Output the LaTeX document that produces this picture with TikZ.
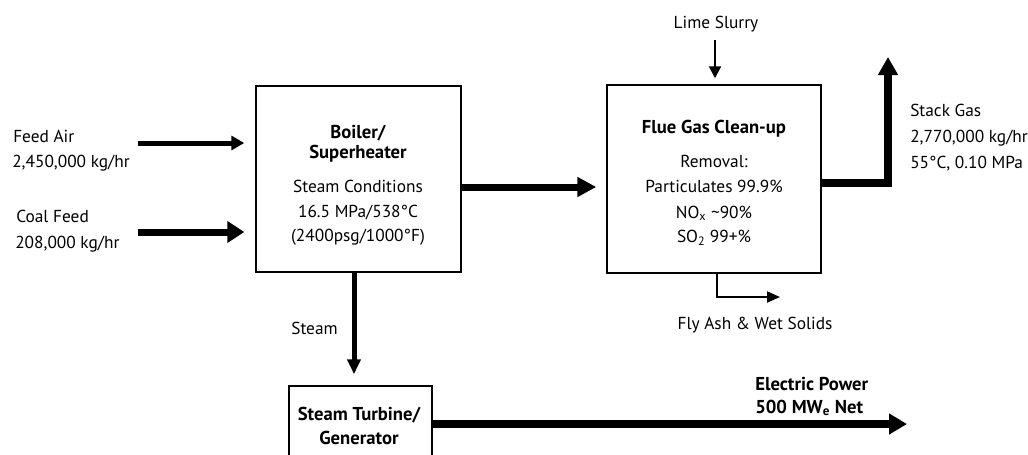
\documentclass[tikz,border=0pt]{standalone}
\usepackage{fontspec}
\setmainfont{PT Sans}
\usetikzlibrary{arrows.meta}
\begin{document}
\begin{tikzpicture}[x=0.75pt,y=-0.75pt,
  box/.style={draw, line width=1.1pt, inner sep=0pt},
  txt/.style={anchor=base, inner sep=0pt, font=\fontsize{13}{15}\selectfont},
  ltxt/.style={txt, anchor=base west},
  btxt/.style={txt, font=\fontsize{14}{16}\selectfont\bfseries},
  lbtxt/.style={btxt, anchor=base west},
  thin/.style={line width=1.5pt, -{Triangle[length=9pt,width=9pt]}},
  midflow/.style={line width=3.75pt, -{Triangle[length=10.5pt,width=11pt]}},
  bigflow/.style={line width=5.25pt, -{Triangle[length=13.5pt,width=15pt]}},
  hugeflow/.style={line width=6pt, -{Triangle[length=13.5pt,width=15pt]}, line join=miter}
]
\clip (0,0) rectangle (1028,454);
\fill[white] (0,0) rectangle (1028,454);

% boxes
\node[box, minimum width=153.75pt, minimum height=139.5pt] (boiler) at (358.5,179) {};
\node[box, minimum width=160.5pt, minimum height=141pt] (flue) at (714,179) {};
\node[box, minimum width=107.25pt, minimum height=70.5pt] (turbine) at (360.5,433) {};

% boiler text
\node[btxt] (b1) at (358,138) {Boiler/};
\node[btxt] (b2) at (358,158) {Superheater};
\node[txt] (b3) at (358,192) {Steam Conditions};
\node[txt] (b4) at (358,217) {16.5 MPa/538°C};
\node[txt] (b5) at (358,241) {(2400psg/1000°F)};

% flue text
\node[btxt] (f1) at (714,133) {Flue Gas Clean-up};
\node[txt] (f2) at (714,167) {Removal:};
\node[txt] (f3) at (714,192) {Particulates 99.9\%};
\node[txt] (f4) at (714,218) {NO\textsubscript{x} \textasciitilde 90\%};
\node[txt] (f5) at (714,242) {SO\textsubscript{2} 99+\%};

% turbine text
\node[btxt] (t1) at (359,420) {Steam Turbine/};
\node[btxt] (t2) at (359,444) {Generator};

% side labels
\node[ltxt] (fa1) at (13,142) {Feed Air};
\node[ltxt] (fa2) at (12,167) {2,450,000 kg/hr};
\node[ltxt] (cf1) at (16,222) {Coal Feed};
\node[ltxt] (cf2) at (15,248) {208,000 kg/hr};
\node[ltxt] (sg1) at (910,116) {Stack Gas};
\node[ltxt] (sg2) at (910,142) {2,770,000 kg/hr};
\node[ltxt] (sg3) at (910,168) {55°C, 0.10 MPa};
\node[txt] (lime) at (716,28) {Lime Slurry};
\node[txt] (ash) at (755,329) {Fly Ash \& Wet Solids};
\node[txt] (stm) at (314.5,334) {Steam};
\node[lbtxt] (ep1) at (755,390) {Electric Power};
\node[lbtxt] (ep2) at (755,413) {500 MW\textsubscript{e} Net};

% coordinates for free ends
\coordinate (faS) at (138,143);
\coordinate (cfS) at (138,232);
\coordinate (bfY) at (0,187);
\coordinate (sgY) at (0,183);
\coordinate (stackTop) at (888,57);
\coordinate (limeTop) at (715,40);
\coordinate (ashX) at (717,0);
\coordinate (ashEnd) at (780,297);
\coordinate (steamX) at (354,0);
\coordinate (epEnd) at (907,424);

% connectors
\draw[midflow, -{Triangle[length=9.75pt,width=10.5pt]}, shorten >=8.25pt] (faS) -- (boiler.west |- faS);
\draw[bigflow, -{Triangle[length=12.75pt,width=15.75pt]}, shorten >=8.25pt] (cfS) -- (boiler.west |- cfS);
\draw[bigflow, -{Triangle[length=14.25pt,width=14.25pt]}, shorten >=7.5pt] (boiler.east |- bfY) -- (flue.west |- bfY);
\draw[hugeflow, -{Triangle[length=13.5pt,width=14.25pt]}] (flue.east |- sgY) -| (stackTop);
\draw[thin, shorten >=4.5pt] (limeTop) -- (flue.north -| limeTop);
\draw[thin, -{Triangle[length=9.75pt,width=8.25pt]}] (flue.south -| ashX) |- (ashEnd);
\draw[midflow, -{Triangle[length=11.25pt,width=9.75pt]}, shorten >=8.25pt] (boiler.south -| steamX) -- (turbine.north -| steamX);
\draw[hugeflow] (turbine.east |- epEnd) -- (epEnd);
\end{tikzpicture}
\end{document}
